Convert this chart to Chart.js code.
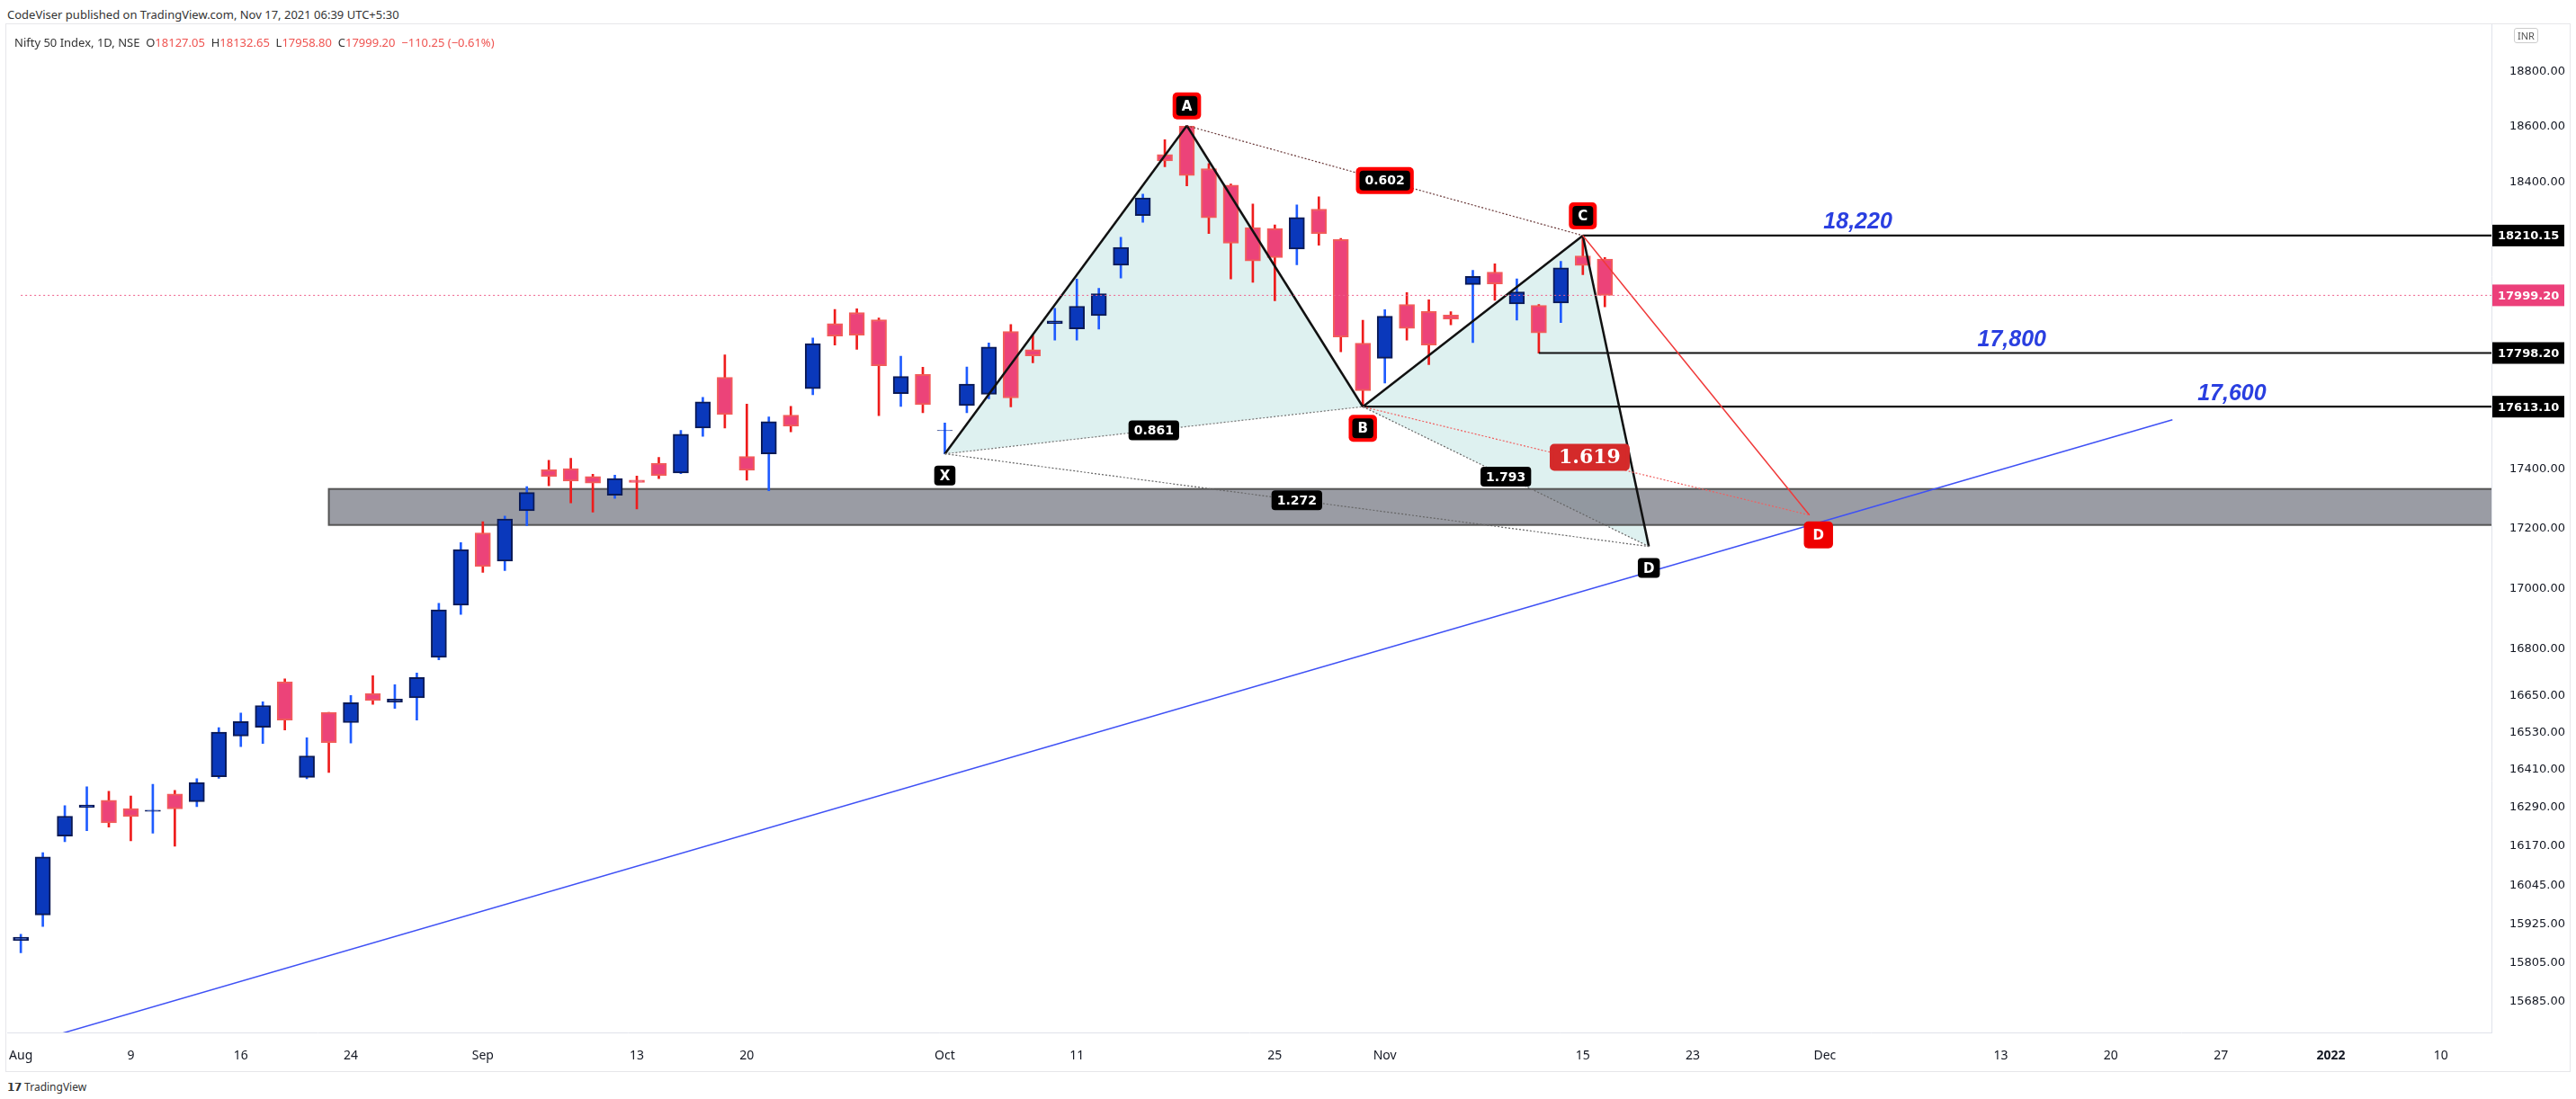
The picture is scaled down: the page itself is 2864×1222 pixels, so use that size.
<!DOCTYPE html>
<html>
<head>
<meta charset="utf-8">
<script src="https://cdn.jsdelivr.net/npm/chart.js@4/dist/chart.umd.min.js"></script>
<style>
  body { margin: 0; background: #fff; width: 2864px; height: 1222px; overflow: hidden; font-family: "Noto Sans", sans-serif; }
  #pub { position: absolute; left: 8px; top: 7px; font-size: 13px; color: #333; }
  #frame { position: absolute; left: 6px; top: 26px; width: 2852px; height: 1166px; border: 1px solid #e6e6ea; box-sizing: border-box; }
  #legend { position: absolute; left: 16px; top: 38px; font-size: 13px; color: #333; }
  #legend .r { color: #ef5350; }
  #inr { position: absolute; left: 2795px; top: 31px; font-size: 11px; color: #555; border: 1px solid #ccc; border-radius: 3px; padding: 0 3px; }
  #logo { position: absolute; left: 8px; top: 1200px; font-size: 12px; color: #333; }
  canvas { position: absolute; left: 0; top: 0; }
</style>
</head>
<body>
<div id="pub">CodeViser published on TradingView.com, Nov 17, 2021 06:39 UTC+5:30</div>
<div id="frame"></div>
<div style="position:absolute;left:0;top:0;width:2864px;height:1192px;">
  <canvas id="chart" width="2864" height="1192"></canvas>
</div>
<div id="legend">Nifty 50 Index, 1D, NSE&nbsp; O<span class="r">18127.05</span>&nbsp; H<span class="r">18132.65</span>&nbsp; L<span class="r">17958.80</span>&nbsp; C<span class="r">17999.20</span>&nbsp; <span class="r">−110.25 (−0.61%)</span></div>
<div id="inr">INR</div>
<div id="logo"><b>𝟭𝟳</b> TradingView</div>
<script>
// daily candles, Aug 2 - Nov 16 2021 (x = trading day index)
const opens = [15874,15953,16200,16291,16313,16287,16278,16333,16309,16388,16519,16547,16694,16386,16595,16562,16656,16628,16642,16774,16945,17185,17091,17260,17398,17402,17375,17312,17363,17420,17387,17540,17714,17443,17452,17584,17675,17900,17939,17914,17658,17724,17531,17617,17656,17873,17810,17900,17882,17928,18105,18281,18500,18602,18449,18390,18238,18235,18162,18304,18196,17832,17780,17967,17943,17930,18037,18081,17969,17964,17972,18138,18127.05];
const highs = [15893,16148,16296,16356,16342,16327,16364,16345,16382,16546,16593,16629,16704,16513,16595,16650,16714,16685,16723,16951,17153,17223,17242,17341,17430,17437,17383,17380,17377,17440,17532,17645,17792,17622,17578,17614,17850,17950,17952,17920,17787,17749,17557,17750,17833,17897,17860,17954,18056,18024,18204,18358,18553,18604,18467,18394,18322,18248,18319,18348,18200,17912,17949,18009,17984,17942,18087,18110,18057,17967,18119,18210,18132.65];
const lows = [15836,15917,16182,16217,16228,16185,16209,16168,16293,16383,16485,16495,16538,16382,16402,16496,16621,16608,16570,16766,16915,17054,17060,17210,17344,17286,17255,17301,17266,17368,17385,17512,17540,17363,17327,17527,17654,17826,17811,17582,17614,17592,17452,17592,17640,17612,17764,17843,17843,17881,18060,18257,18456,18387,18217,18057,18045,17980,18107,18176,17802,17613,17694,17843,17758,17896,17834,17982,17913,17798,17904,18072,17958.80];
const closes = [15884,16134,16263,16298,16242,16262,16282,16286,16370,16531,16565,16617,16570,16455,16498,16626,16633,16638,16708,16930,17130,17073,17232,17321,17375,17360,17353,17368,17355,17379,17519,17630,17586,17396,17562,17546,17831,17857,17860,17754,17717,17620,17532,17691,17819,17643,17788,17910,17961,18005,18168,18344,18477,18424,18273,18183,18120,18132,18274,18217,17854,17668,17926,17884,17826,17916,18066,18039,18011,17868,18096,18104,17999.20];

const xTickIdx = [0,5,10,15,21,28,33,42,48,57,62,71,76,82,90,95,100,105,110];
const xTickLabels = ["Aug","9","16","24","Sep","13","20","Oct","11","25","Nov","15","23","Dec","13","20","27","2022","10"];
const yTicks = [15685,15805,15925,16045,16170,16290,16410,16530,16650,16800,17000,17200,17400,18400,18600,18800];

// XABCD harmonic pattern
const patternNames = ["X","A","B","C","D"];
const patternX = [42,53,61,71,74];
const patternY = [17452,18604,17613,18210,17140];
const altD = [81.3,17245];
const ratioLabels = ["0.602","0.861","1.272","1.793","1.619"];
const levels = [18210.15,17798.20,17613.10];
const levelStart = [71,69,61];
const levelText = ["18,220","17,800","17,600"];
const levelTextX = [83.5,90.5,100.5];
const lastPrice = 17999.20;
const zone = [14,17212,17333];
const trend = [[1.7,15586],[97.8,17568]];

const BLUE = "#0a38bb", RED = "#ec4379";
const up = closes.map((c,i)=>c>=opens[i]);
const P = (i,a)=>({x:i,y:a});

const seg = (a,b)=>[P(patternX[a],patternY[a]),P(patternX[b],patternY[b])];
const lineDs = (data,color,width,dash)=>({type:"line",data,borderColor:color,borderWidth:width,borderDash:dash||[],pointRadius:0,fill:false,order:0});

const datasets = [
  {type:"bar",data:lows.map((l,i)=>P(i,[l,highs[i]])),backgroundColor:up.map(u=>u?"#1e5bff":"#ee1c1c"),barThickness:2,grouped:false,order:3},
  {type:"bar",data:opens.map((o,i)=>P(i,[Math.min(o,closes[i]),Math.max(o,closes[i])])),backgroundColor:up.map(u=>u?BLUE:RED),
   borderColor:up.map(u=>u?"#0b1a55":"#f25b5b"),borderWidth:2,borderSkipped:false,barThickness:17,grouped:false,order:2},
  lineDs([P(trend[0][0],trend[0][1]),P(trend[1][0],trend[1][1])],"#3f51f5",1.5),
  lineDs([P(0,lastPrice),P(112.3,lastPrice)],"#ef5f8a",1,[2,3]),
  lineDs(seg(1,3),"#6b3a3a",1.2,[2,2]),
  lineDs(seg(0,2),"#777",1.2,[2,2]),
  lineDs(seg(0,4),"#666",1.2,[2,2]),
  lineDs(seg(2,4),"#666",1.2,[2,2]),
  lineDs([P(patternX[2],patternY[2]),P(altD[0],altD[1])],"#f06060",1.2,[2,2]),
  lineDs([P(patternX[3],patternY[3]),P(altD[0],altD[1])],"#f03a3a",1.5),
  lineDs(seg(0,1),"#111",2.5), lineDs(seg(1,2),"#111",2.5), lineDs(seg(2,3),"#111",2.5), lineDs(seg(3,4),"#111",2.5)
];
levels.forEach((v,k)=>datasets.push(lineDs([P(levelStart[k],v),P(112.3,v)],"#111",2.2)));

function box(ctx,x,y,text,fill,stroke,font,color){
  ctx.font = font;
  const w = ctx.measureText(text).width+12, h = 22;
  if (stroke){ ctx.fillStyle=stroke; ctx.beginPath(); ctx.roundRect(x-w/2-4,y-h/2-4,w+8,h+8,5); ctx.fill(); }
  ctx.fillStyle=fill; ctx.beginPath(); ctx.roundRect(x-w/2,y-h/2,w,h,4); ctx.fill();
  ctx.fillStyle=color||"#fff"; ctx.textAlign="center"; ctx.textBaseline="middle"; ctx.fillText(text,x,y+1);
}

const overlay = {
  id:"overlay",
  beforeDatasetsDraw(chart){
    const {ctx,scales:{x,y},chartArea:a} = chart;
    ctx.save();
    ctx.beginPath(); ctx.rect(a.left,a.top,a.right-a.left,a.bottom-a.top); ctx.clip();
    ctx.fillStyle="rgba(0,150,136,0.13)";
    [[0,1,2],[2,3,4]].forEach(t=>{
      ctx.beginPath();
      t.forEach((k,j)=>{ const px=x.getPixelForValue(patternX[k]), py=y.getPixelForValue(patternY[k]); j?ctx.lineTo(px,py):ctx.moveTo(px,py); });
      ctx.closePath(); ctx.fill();
    });
    const zx=x.getPixelForValue(zone[0]), zt=y.getPixelForValue(zone[2]), zb=y.getPixelForValue(zone[1]);
    ctx.fillStyle="rgba(120,123,134,0.75)"; ctx.fillRect(zx,zt,a.right-zx,zb-zt);
    ctx.strokeStyle="#555"; ctx.lineWidth=2; ctx.strokeRect(zx,zt,a.right-zx+4,zb-zt);
    ctx.restore();
  },
  afterDatasetsDraw(chart){
    const {ctx,scales:{x,y},chartArea:a} = chart;
    ctx.save();
    const f = "bold 15px 'DejaVu Sans'";
    const below = [true,false,true,false,true];
    patternNames.forEach((n,k)=>{
      const px=x.getPixelForValue(patternX[k]), py=y.getPixelForValue(patternY[k])+(below[k]?24:-22);
      box(ctx,px,py,n,"#000",(k>=1&&k<=3)?"#f00":null,f);
    });
    box(ctx,x.getPixelForValue(altD[0])+10,y.getPixelForValue(altD[1])+22,"D","#e00","#e00",f);
    const mid=(a,b,c,d)=>[ (a+c)/2, Math.sqrt(b*d) ];
    const pts=[mid(patternX[1],patternY[1],patternX[3],patternY[3]),mid(patternX[0],patternY[0],patternX[2],patternY[2]),
               mid(patternX[0],patternY[0],patternX[4],patternY[4]),mid(patternX[2],patternY[2],patternX[4],patternY[4]),
               mid(patternX[2],patternY[2],altD[0],altD[1])];
    const fr = "bold 14px 'DejaVu Sans'";
    box(ctx,x.getPixelForValue(pts[0][0]),y.getPixelForValue(pts[0][1]),ratioLabels[0],"#000","#f00",fr);
    for (let k=1;k<4;k++) box(ctx,x.getPixelForValue(pts[k][0]),y.getPixelForValue(pts[k][1]),ratioLabels[k],"#000",null,fr);
    box(ctx,x.getPixelForValue(pts[4][0])+4,y.getPixelForValue(pts[4][1])-4,ratioLabels[4],"#d42a2a","#d42a2a","bold 22px 'DejaVu Serif'");
    ctx.font="italic bold 25px 'Liberation Sans'"; ctx.fillStyle="#2a3fe0"; ctx.textAlign="center"; ctx.textBaseline="bottom";
    levels.forEach((v,k)=>ctx.fillText(levelText[k],x.getPixelForValue(levelTextX[k]),y.getPixelForValue(v)-2));
    ctx.font="bold 13px 'DejaVu Sans'"; ctx.textAlign="left"; ctx.textBaseline="middle";
    const tag=(v,bg)=>{ const py=y.getPixelForValue(v); ctx.fillStyle=bg; ctx.fillRect(a.right+1,py-12,80,24); ctx.fillStyle="#fff"; ctx.fillText(v.toFixed(2),a.right+7,py+1); };
    levels.forEach(v=>tag(v,"#000"));
    tag(lastPrice,"#ec407a");
    ctx.restore();
  }
};

new Chart(document.getElementById("chart"),{
  type:"bar",
  data:{datasets},
  plugins:[overlay],
  options:{
    responsive:false, animation:false,
    layout:{padding:{top:27,left:8,right:0,bottom:0}},
    plugins:{legend:{display:false},tooltip:{enabled:false}},
    scales:{
      x:{type:"linear",min:-0.6,max:112.3,offset:false,grid:{display:false},border:{color:"#e0e3eb"},
         afterBuildTicks:s=>{s.ticks=xTickIdx.map(v=>({value:v}));},
         afterFit:s=>{s.height=44;},
         ticks:{autoSkip:false,maxRotation:0,color:"#131722",padding:10,font:c=>({family:"Noto Sans",size:14,weight:c.tick&&c.tick.value===105?"bold":"normal"}),
                callback:v=>{const k=xTickIdx.indexOf(v);return k<0?"":xTickLabels[k];}}},
      y:{type:"logarithmic",position:"right",min:15592,max:18975,grid:{display:false},border:{color:"#e0e3eb"},
         afterBuildTicks:s=>{s.ticks=yTicks.map(v=>({value:v}));},
         afterFit:s=>{s.width=94;},
         ticks:{autoSkip:false,color:"#131722",padding:12,font:{family:"DejaVu Sans",size:13},callback:v=>Number(v).toFixed(2)}}
    }
  }
});
</script>
</body>
</html>
